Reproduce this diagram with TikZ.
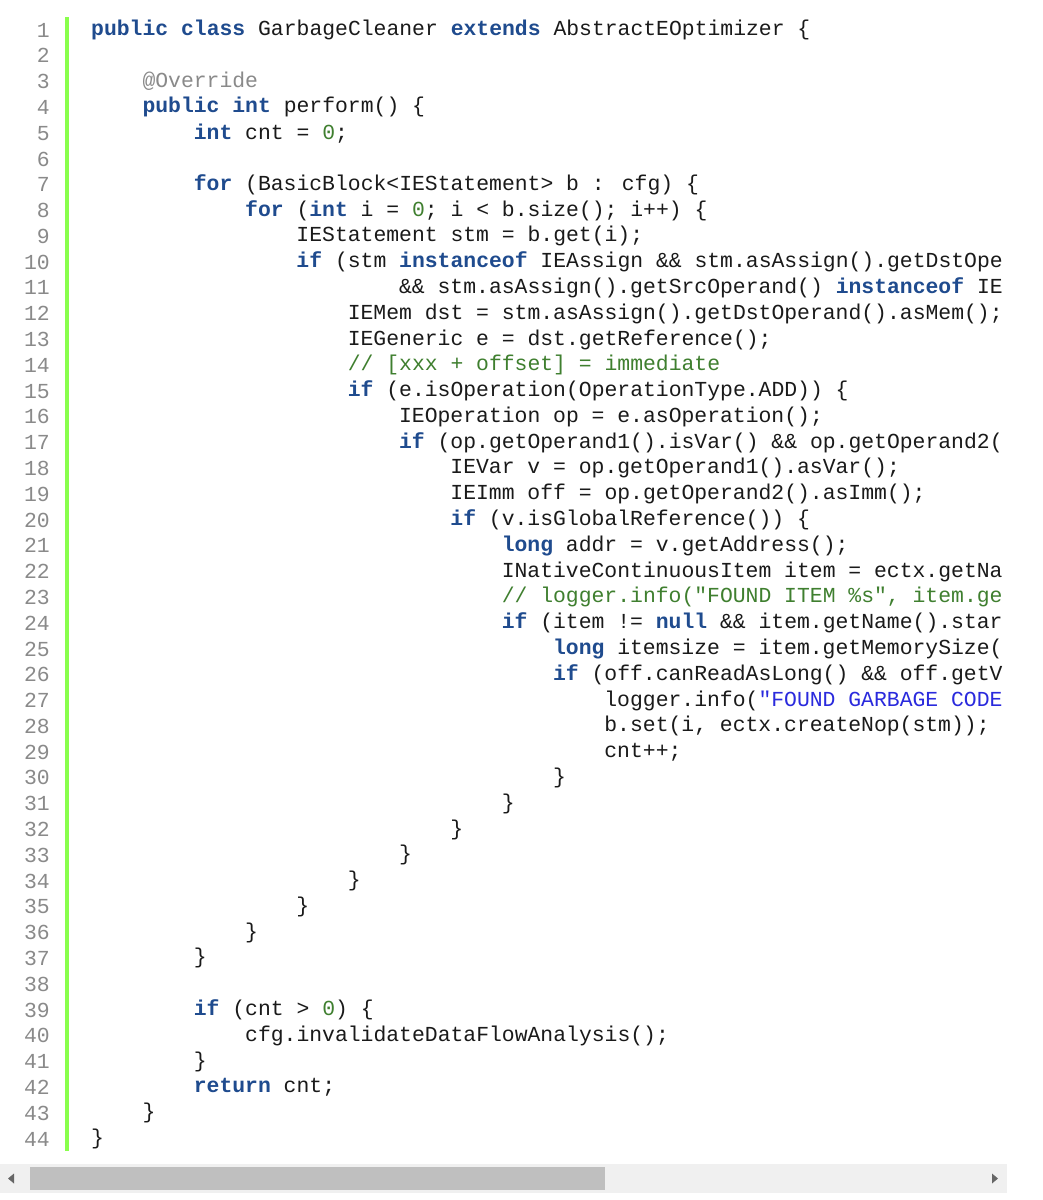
\documentclass[tikz,border=0pt]{standalone}
\usepackage{fontspec}
\newfontfamily\code{Liberation Mono}
\definecolor{kwc}{HTML}{1F4B8E}
\definecolor{cmc}{HTML}{3F7F2F}
\definecolor{stc}{HTML}{2A2ADD}
\definecolor{lnc}{HTML}{8A8A8A}
\definecolor{txc}{HTML}{1A1A1A}
\newcommand\kwd[1]{\textcolor{kwc}{\bfseries #1}}
\newcommand\cmt[1]{\textcolor{cmc}{#1}}
\newcommand\nmb[1]{\textcolor{cmc}{#1}}
\newcommand\strg[1]{\textcolor{stc}{#1}}
\newcommand\ano[1]{\textcolor{lnc}{#1}}
\tikzset{codeline/.style={anchor=west,inner sep=0pt,font=\code\fontsize{21.4}{25}\selectfont,text=txc},
lnum/.style={anchor=east,inner sep=0pt,font=\code\fontsize{21.4}{25}\selectfont,text=lnc}}
\newcommand\cl[3]{\node[codeline] (c#1) at ({91+#2*12.83},{30+(#1-1)*25.79}) {#3};}
\begin{document}
\begin{tikzpicture}[x=1pt,y=-1pt]
\useasboundingbox[fill=white] (0,0) rectangle (1043,1200);
\foreach \i in {1,...,44}{\node[lnum] (n\i) at (50,{30+(\i-1)*25.79}) {\i};}
\fill[green!55!lime!70!white] (65,17) rectangle (69,1151);
\begin{scope}
\clip (72,0) rectangle (1006,1160);
\cl{1}{0}{\kwd{public class} GarbageCleaner \kwd{extends} AbstractEOptimizer \{}
\cl{3}{4}{\ano{@Override}}
\cl{4}{4}{\kwd{public int} perform() \{}
\cl{5}{8}{\kwd{int} cnt = \nmb{0};}
\cl{7}{8}{\kwd{for} (BasicBlock<IEStatement> b : cfg) \{}
\cl{8}{12}{\kwd{for} (\kwd{int} i = \nmb{0}; i < b.size(); i++) \{}
\cl{9}{16}{IEStatement stm = b.get(i);}
\cl{10}{16}{\kwd{if} (stm \kwd{instanceof} IEAssign \&\& stm.asAssign().getDstOpe}
\cl{11}{24}{\&\& stm.asAssign().getSrcOperand() \kwd{instanceof} IE}
\cl{12}{20}{IEMem dst = stm.asAssign().getDstOperand().asMem();}
\cl{13}{20}{IEGeneric e = dst.getReference();}
\cl{14}{20}{\cmt{// [xxx + offset] = immediate}}
\cl{15}{20}{\kwd{if} (e.isOperation(OperationType.ADD)) \{}
\cl{16}{24}{IEOperation op = e.asOperation();}
\cl{17}{24}{\kwd{if} (op.getOperand1().isVar() \&\& op.getOperand2(}
\cl{18}{28}{IEVar v = op.getOperand1().asVar();}
\cl{19}{28}{IEImm off = op.getOperand2().asImm();}
\cl{20}{28}{\kwd{if} (v.isGlobalReference()) \{}
\cl{21}{32}{\kwd{long} addr = v.getAddress();}
\cl{22}{32}{INativeContinuousItem item = ectx.getNa}
\cl{23}{32}{\cmt{// logger.info("FOUND ITEM \%s", item.ge}}
\cl{24}{32}{\kwd{if} (item != \kwd{null} \&\& item.getName().star}
\cl{25}{36}{\kwd{long} itemsize = item.getMemorySize(}
\cl{26}{36}{\kwd{if} (off.canReadAsLong() \&\& off.getV}
\cl{27}{40}{logger.info(\strg{"FOUND GARBAGE CODE}}
\cl{28}{40}{b.set(i, ectx.createNop(stm));}
\cl{29}{40}{cnt++;}
\cl{30}{36}{\}}
\cl{31}{32}{\}}
\cl{32}{28}{\}}
\cl{33}{24}{\}}
\cl{34}{20}{\}}
\cl{35}{16}{\}}
\cl{36}{12}{\}}
\cl{37}{8}{\}}
\cl{39}{8}{\kwd{if} (cnt > \nmb{0}) \{}
\cl{40}{12}{cfg.invalidateDataFlowAnalysis();}
\cl{41}{8}{\}}
\cl{42}{8}{\kwd{return} cnt;}
\cl{43}{4}{\}}
\cl{44}{0}{\}}
\end{scope}
% scrollbar
\fill[black!6] (0,1164) rectangle (1007,1193);
\fill[black!25] (30,1167) rectangle (605,1190);
\fill[black!60] (8,1178.5) -- (14,1173.5) -- (14,1183.5) -- cycle;
\fill[black!60] (998,1178.5) -- (992,1173.5) -- (992,1183.5) -- cycle;
\end{tikzpicture}
\end{document}
